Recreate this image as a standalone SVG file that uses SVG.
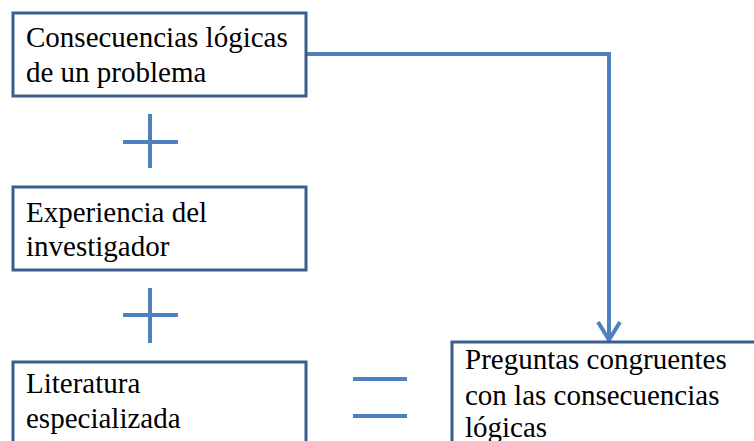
<svg xmlns="http://www.w3.org/2000/svg" width="754" height="441" viewBox="0 0 754 441">
<style>
.box{fill:#fff;stroke:#3B5F8C;stroke-width:3}
.t{font-family:'Liberation Serif','Times New Roman',Times,'DejaVu Serif',serif;font-size:29px;fill:#000}
.sym{stroke:#4F81BD;stroke-width:4;fill:none}
.conn{stroke:#4F81BD;stroke-width:4;fill:none}
</style>
<rect width="754" height="441" fill="#fff"/>
<g id="connectors">
<path class="conn" d="M307 54 H609 V339"/>
<path class="conn" d="M598 322 L609 340 L620 322" stroke-linejoin="miter"/>
</g>
<g id="node-consecuencias">
<rect class="box" x="13" y="13" width="293" height="83"/>
<text class="t" font-family="Liberation Serif, serif" x="26" y="47">Consecuencias lógicas</text>
<text class="t" font-family="Liberation Serif, serif" x="26" y="82">de un problema</text>
</g>
<g id="plus-1">
<path class="sym" d="M123 142 H178 M150 114 V168"/>
</g>
<g id="node-experiencia">
<rect class="box" x="13" y="187" width="293" height="83"/>
<text class="t" x="26" y="222">Experiencia del</text>
<text class="t" x="26" y="256">investigador</text>
</g>
<g id="plus-2">
<path class="sym" d="M123 315 H178 M150 288 V343"/>
</g>
<g id="node-literatura">
<rect class="box" x="13" y="362" width="293" height="100"/>
<text class="t" x="26" y="393">Literatura</text>
<text class="t" x="26" y="428">especializada</text>
</g>
<g id="equals">
<path class="sym" d="M353 379 H407 M353 416 H407"/>
</g>
<g id="node-preguntas">
<rect class="box" x="452" y="342" width="320" height="120"/>
<text class="t" x="465" y="369">Preguntas congruentes</text>
<text class="t" x="465" y="405">con las consecuencias</text>
<text class="t" x="465" y="437">lógicas</text>
</g>
</svg>
